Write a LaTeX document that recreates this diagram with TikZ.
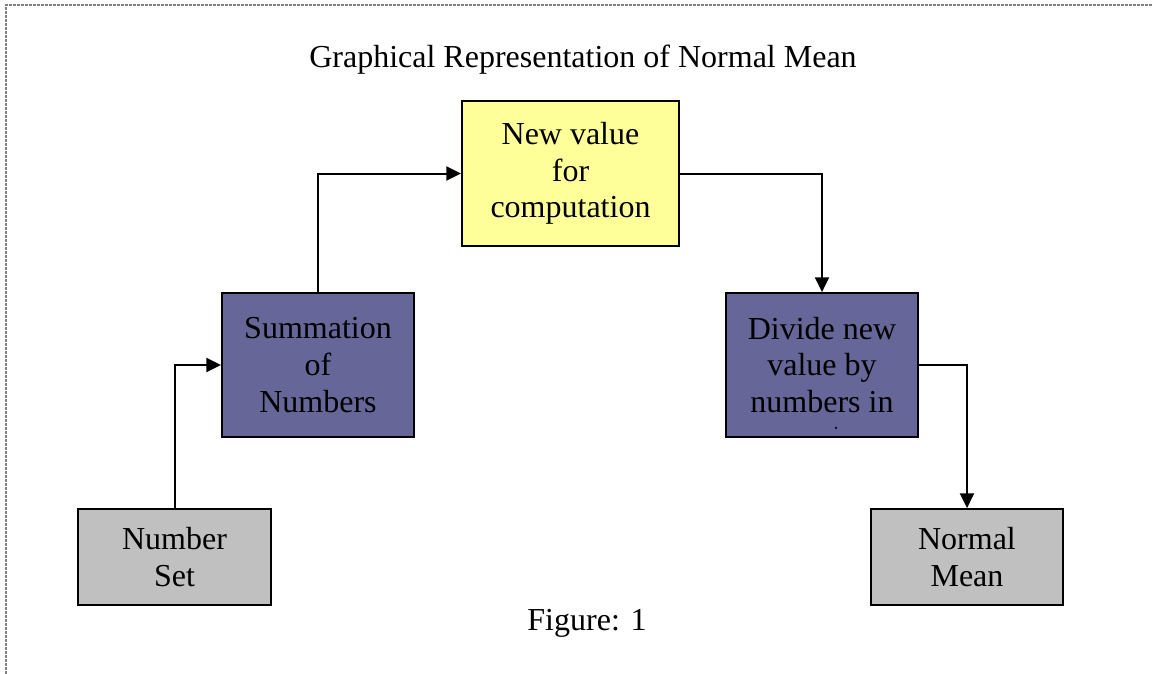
\documentclass[tikz,border=0pt]{standalone}
\usepackage{fontspec}
\setmainfont{Liberation Serif}
\usetikzlibrary{arrows.meta,calc}
\definecolor{boxpurple}{HTML}{666699}
\definecolor{boxyellow}{HTML}{FFFF99}
\definecolor{boxgray}{HTML}{C0C0C0}
\tikzset{
  box/.style={draw=black, line width=1.4pt, inner sep=0pt, align=center,
    font=\fontsize{24pt}{27.6pt}\selectfont},
  conn/.style={draw=black, line width=1.5pt, -{Triangle[length=11pt,width=10.5pt]}},
  lbl/.style={font=\fontsize{24pt}{27.6pt}\selectfont, anchor=base, inner sep=0pt},
  frame/.style={draw=gray, line width=0.8pt, dash pattern=on 2pt off 1pt}
}
\begin{document}
\begin{tikzpicture}[x=0.75pt,y=-0.75pt]
\useasboundingbox (0,0) rectangle (1153,674);
\draw[frame] (6,674) -- (6,5) -- (1153,5);
\node[lbl] (title) at (583,68) {Graphical Representation of Normal Mean};
\node[lbl] (fig) at (587,630) {Figure: 1};
\node[box, fill=boxgray, minimum width=144.75pt, minimum height=72pt] (ns) at (174.5,557) {Number\\Set};
\node[box, fill=boxpurple, minimum width=144pt, minimum height=108pt] (sum) at (318,365) {Summation\\of\\Numbers};
\node[box, fill=boxyellow, minimum width=162.75pt, minimum height=108.75pt] (nv) at (570.5,173.5) {New value\\for\\computation};
\node[box, fill=boxpurple, minimum width=144pt, minimum height=108pt] (div) at (822,365) {Divide new\\value by\\numbers in};
\node[box, fill=boxgray, minimum width=144pt, minimum height=72pt] (nm) at (967,557) {Normal\\Mean};
\fill[black] ($(div.south)+(14,-10)$) circle (0.9pt);
\draw[conn] (ns.north) |- (sum.west);
\draw[conn] (sum.north) |- (nv.west);
\draw[conn] (nv.east) -| (div.north);
\draw[conn] (div.east) -| (nm.north);
\end{tikzpicture}
\end{document}
